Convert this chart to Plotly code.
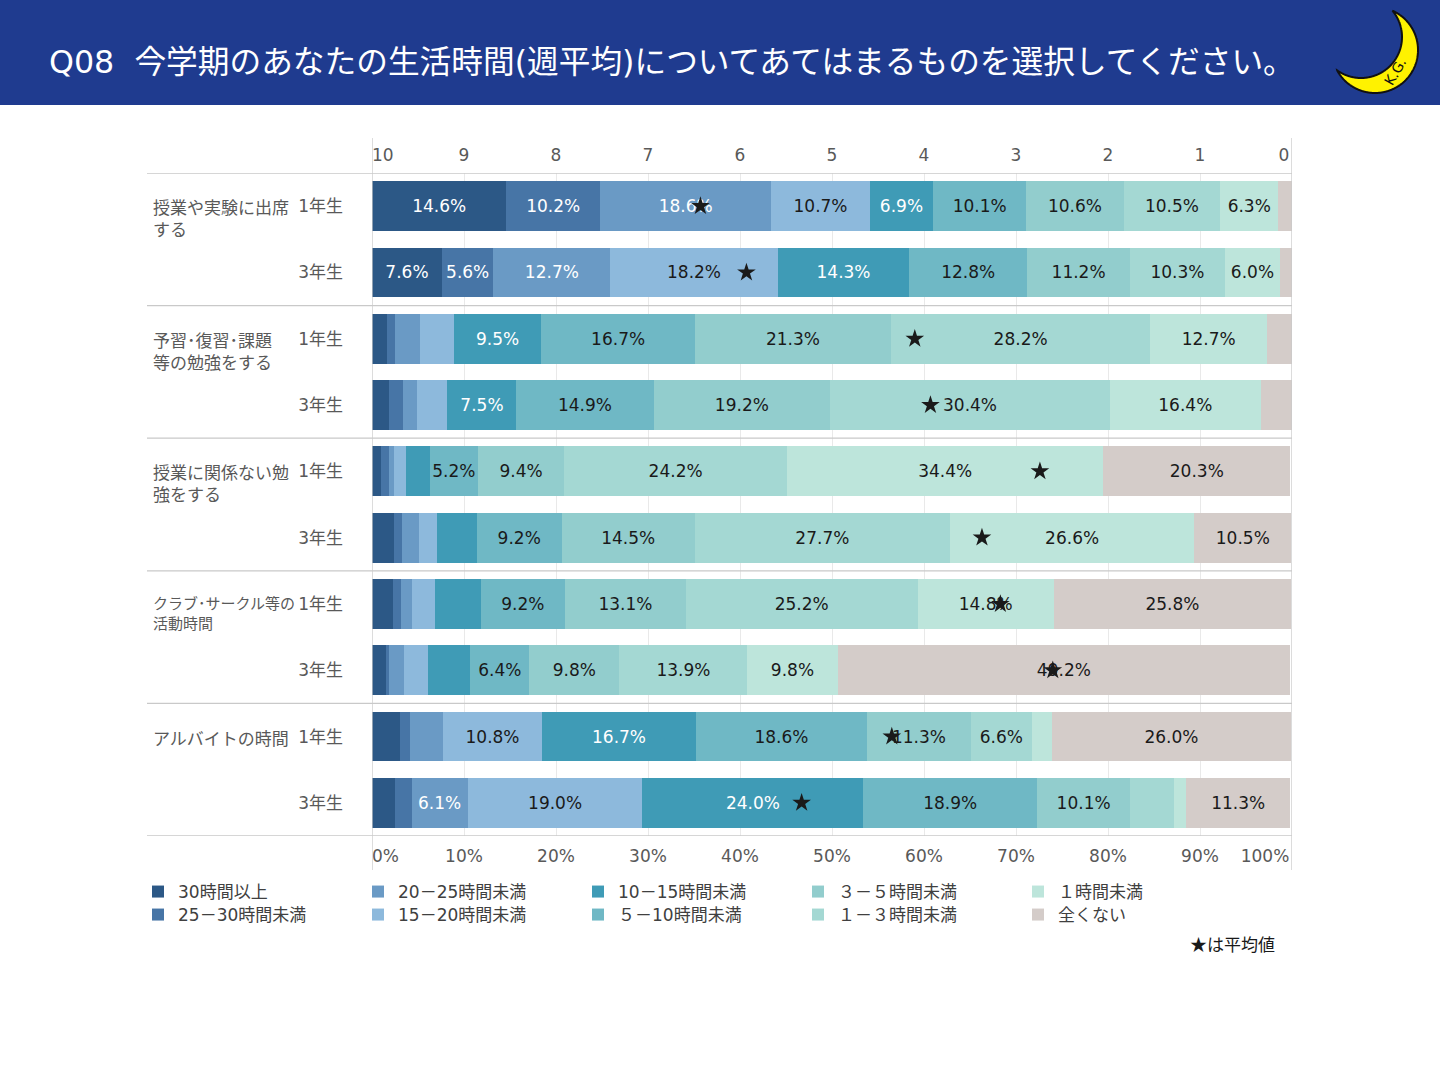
import numpy as np
import plotly.graph_objects as go

W, H = 1440, 1080

# 設問・学年
groups = ["授業や実験に出席<br>する", "予習･復習･課題<br>等の勉強をする", "授業に関係ない勉<br>強をする",
          "クラブ･サークル等の<br>活動時間", "アルバイトの時間"]
years = ["1年生", "3年生"]

# 選択肢
categories = ["30時間以上", "25－30時間未満", "20－25時間未満", "15－20時間未満", "10－15時間未満",
              "５－10時間未満", "３－５時間未満", "１－３時間未満", "１時間未満", "全くない"]

# 割合 (%)  行順: 授業1,授業3,予習1,予習3,関係なし1,関係なし3,クラブ1,クラブ3,バイト1,バイト3
h30 = [14.6, 7.6, 1.6, 1.9, 1.0, 2.4, 2.3, 1.5, 3.0, 2.5]
h25 = [10.2, 5.6, 0.9, 1.5, 0.9, 0.9, 0.8, 0.4, 1.1, 1.8]
h20 = [18.6, 12.7, 2.7, 1.5, 0.5, 1.8, 1.2, 1.6, 3.6, 6.1]
h15 = [10.7, 18.2, 3.7, 3.3, 1.3, 2.0, 2.6, 2.6, 10.8, 19.0]
h10 = [6.9, 14.3, 9.5, 7.5, 2.6, 4.3, 4.9, 4.6, 16.7, 24.0]
h5 = [10.1, 12.8, 16.7, 14.9, 5.2, 9.2, 9.2, 6.4, 18.6, 18.9]
h3 = [10.6, 11.2, 21.3, 19.2, 9.4, 14.5, 13.1, 9.8, 11.3, 10.1]
h1 = [10.5, 10.3, 28.2, 30.4, 24.2, 27.7, 25.2, 13.9, 6.6, 4.8]
h0 = [6.3, 6.0, 12.7, 16.4, 34.4, 26.6, 14.8, 9.8, 2.2, 1.3]
none = [1.5, 1.3, 2.7, 3.4, 20.3, 10.5, 25.8, 49.2, 26.0, 11.3]
values = [h30, h25, h20, h15, h10, h5, h3, h1, h0, none]

# 平均値 (時間, 上の軸 10→0)
mean_hours = [6.43, 5.93, 4.10, 3.93, 2.74, 3.37, 3.17, 2.60, 4.35, 5.33]

# 軸ラベル (端のラベルは枠の内側に寄せる)
NB = "\u00a0"
top_ticks = list(range(0, 11))
top_text = [str(v) for v in top_ticks]
top_text[0] = "0" + NB * 3
top_text[10] = NB * 4 + "10"
bottom_ticks = [f"{v}%" for v in range(0, 101, 10)]
bottom_ticks[0] = NB * 5 + "0%"
bottom_ticks[10] = "100%" + NB * 10

colors = ["#2C5886", "#4775A6", "#6A9AC5", "#8DB9DC", "#3F9BB6",
          "#6FB8C5", "#92CDCD", "#A4D8D3", "#BDE5DB", "#D4CCC9"]
text_colors = ["white", "white", "white", "#1a1a1a", "white",
               "#1a1a1a", "#1a1a1a", "#1a1a1a", "#1a1a1a", "#1a1a1a"]

FONT = "DejaVu Sans, Noto Sans CJK JP"
JP = "Noto Sans CJK JP"
GRAY = "#595959"


def px(x):
    return x / W


def py(y):
    return 1 - y / H


rows = list(range(len(groups) * len(years)))
row_labels = [y for g in groups for y in years]

fig = go.Figure()

for i, (name, vals) in enumerate(zip(categories, values)):
    fig.add_trace(go.Bar(
        y=rows, x=vals, orientation="h", name=name,
        marker=dict(color=colors[i], line=dict(width=0)),
        width=0.75,
        text=[f"{v:.1f}%" if v >= 5 else "" for v in vals],
        textposition="inside", insidetextanchor="middle", textangle=0,
        textfont=dict(color=text_colors[i], size=17, family="DejaVu Sans"),
        legend="legend" if i % 2 == 0 else "legend2",
    ))

# 平均値の★
fig.add_trace(go.Scatter(
    x=mean_hours, y=rows, xaxis="x2", mode="markers",
    marker=dict(symbol="star", size=14, color="#1a1a1a", line=dict(width=0)),
    showlegend=False, name="平均値",
))

shapes = []
# header band
shapes.append(dict(type="rect", xref="paper", yref="paper", x0=0, x1=1, y0=py(105), y1=1,
                   fillcolor="#1F3B8F", line=dict(width=0), layer="below"))
# group separators
for yv in [-0.5, 1.5, 3.5, 5.5, 7.5, 9.5]:
    shapes.append(dict(type="line", xref="paper", yref="y", x0=px(147), x1=px(1292), y0=yv, y1=yv,
                       line=dict(color="#C9C9C9", width=1.3)))
# left / right frame
for xv in [0, 100]:
    shapes.append(dict(type="line", xref="x", yref="paper", x0=xv, x1=xv, y0=py(870), y1=py(138),
                       line=dict(color="#C9C9C9", width=1.3)))

# moon logo
t = np.linspace(0, 2 * np.pi, 721)[:-1]
oc, ro = np.array([1375.0, 50.0]), 43.0
ic, ri = np.array([1361.0, 37.0]), 41.0
outer = oc + ro * np.c_[np.cos(t), np.sin(t)]
inner = ic + ri * np.c_[np.cos(t), np.sin(t)]


def arc(pts, keep):
    i0 = int(np.argmax(~np.roll(keep, 1) & keep))
    pts, keep = np.roll(pts, -i0, axis=0), np.roll(keep, -i0)
    n = int(np.argmin(keep)) if not keep.all() else len(keep)
    return pts[:n]


oa = arc(outer, np.hypot(*(outer - ic).T) > ri)
ia = arc(inner, np.hypot(*(inner - oc).T) < ro)
if np.hypot(*(ia[0] - oa[-1])) > np.hypot(*(ia[-1] - oa[-1])):
    ia = ia[::-1]
poly = np.vstack([oa, ia])
path = "M " + " L ".join(f"{px(x):.5f},{py(y):.5f}" for x, y in poly) + " Z"
shapes.append(dict(type="path", xref="paper", yref="paper", path=path,
                   fillcolor="#FFF200", line=dict(color="#111111", width=2)))

annotations = [
    dict(text="Q08  今学期のあなたの生活時間(週平均)についてあてはまるものを選択してください。",
         xref="paper", yref="paper", x=px(47), y=py(62), xanchor="left", yanchor="middle",
         showarrow=False, font=dict(size=31.7, color="white", family=FONT)),
    dict(text="K.G.", xref="paper", yref="paper", x=px(1395), y=py(72), xanchor="center",
         yanchor="middle", showarrow=False, textangle=-60,
         font=dict(size=14, color="#111111", family="DejaVu Sans")),
    dict(text="★は平均値", xref="paper", yref="paper", x=px(1277), y=py(943),
         xanchor="right", yanchor="middle", showarrow=False,
         font=dict(size=17, color="#1a1a1a", family=JP)),
]
for k, g in enumerate(groups):
    longest = max(len(s) for s in g.split("<br>"))
    annotations.append(dict(text=g, xref="paper", yref="y", x=px(151), y=2 * k, yshift=14,
                            xanchor="left", yanchor="top", align="left", showarrow=False,
                            font=dict(size=15 if longest >= 10 else 17, color=GRAY, family=JP)))

legend_style = dict(orientation="h", x=px(138), xanchor="left", yanchor="middle",
                    entrywidth=175, entrywidthmode="pixels", traceorder="normal",
                    font=dict(size=17, color="#404040", family=FONT), itemwidth=30,
                    bgcolor="rgba(0,0,0,0)")

fig.update_layout(
    width=W, height=H,
    margin=dict(l=0, r=0, t=0, b=0, autoexpand=False),
    paper_bgcolor="white", plot_bgcolor="white",
    font=dict(family=FONT, size=17, color=GRAY),
    barmode="stack", bargap=0.25,
    showlegend=True,
    legend=dict(y=py(892), **legend_style),
    legend2=dict(y=py(915), **legend_style),
    uniformtext=dict(minsize=17, mode="show"),
    xaxis=dict(domain=[px(372), px(1292)], range=[0, 100], tickvals=list(range(0, 101, 10)),
               ticktext=bottom_ticks, showgrid=True, gridcolor="#E9E9E9", gridwidth=1,
               zeroline=False, showline=False, ticks="", ticklabelstandoff=8,
               tickfont=dict(size=17, color=GRAY), fixedrange=True),
    xaxis2=dict(overlaying="x", side="top", anchor="y", range=[10, 0], tickvals=top_ticks,
                ticktext=top_text,
                showgrid=False, zeroline=False, showline=False, ticks="", ticklabelstandoff=8,
                tickfont=dict(size=17, color=GRAY), fixedrange=True),
    yaxis=dict(domain=[py(836), py(173)], range=[9.5, -0.5], tickvals=rows, ticktext=row_labels,
               showgrid=False, zeroline=False, showline=False, ticks="", ticklabelstandoff=28,
               tickfont=dict(size=17, color=GRAY), fixedrange=True),
    shapes=shapes,
    annotations=annotations,
)

fig.write_html("out.html", config={"displayModeBar": False},
               post_script="document.body.style.margin='0';"
                           "document.documentElement.style.overflow='hidden';")
